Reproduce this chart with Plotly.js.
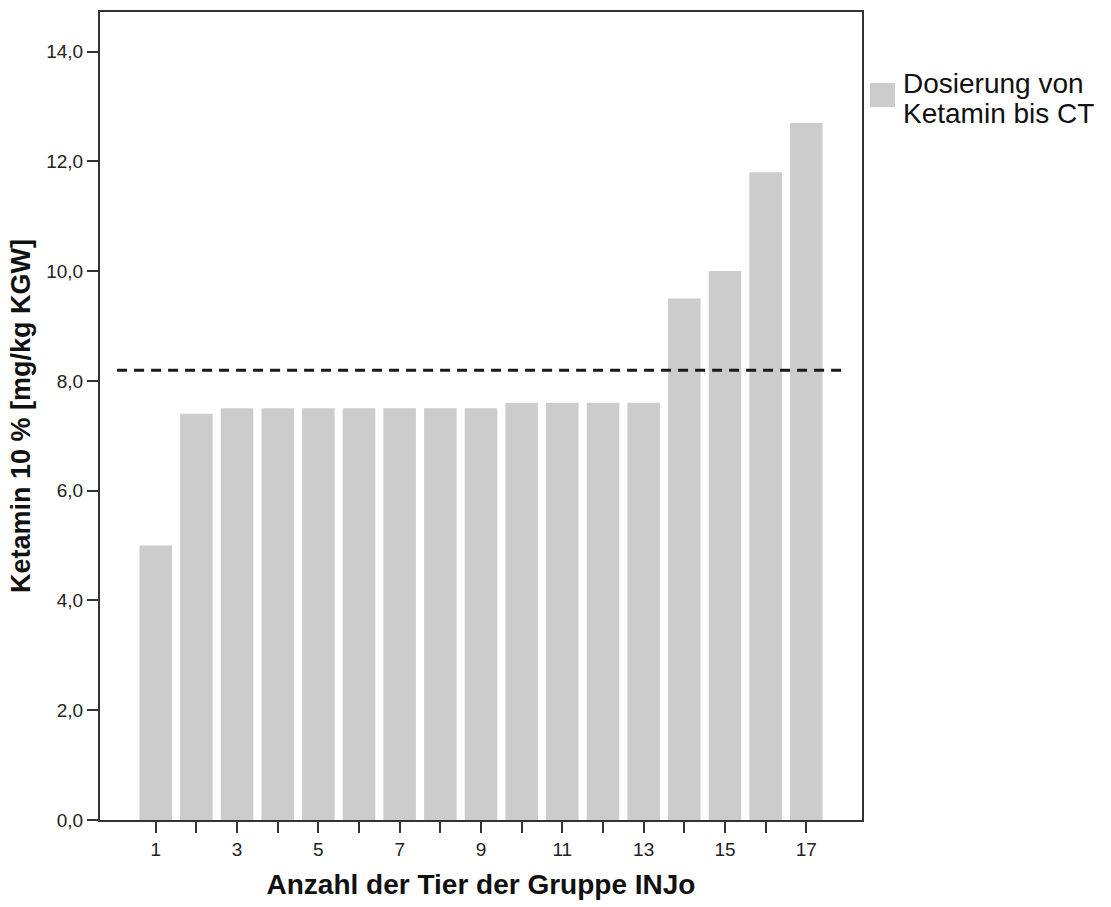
<!DOCTYPE html>
<html>
<head>
<meta charset="utf-8">
<script src="https://cdn.plot.ly/plotly-3.0.1.min.js"></script>
<style>
  html, body { margin: 0; padding: 0; background: #fff; }
  #chart { width: 1111px; height: 907px; }
</style>
</head>
<body>
<div id="chart"></div>
<script>
// Ketamine dose per animal (group INJo), sorted ascending
const animals = [1, 2, 3, 4, 5, 6, 7, 8, 9, 10, 11, 12, 13, 14, 15, 16, 17];
const ketamineDose = [5.0, 7.4, 7.5, 7.5, 7.5, 7.5, 7.5, 7.5, 7.5, 7.6, 7.6, 7.6, 7.6, 9.5, 10.0, 11.8, 12.7];
const xTickLabels = ['1', '', '3', '', '5', '', '7', '', '9', '', '11', '', '13', '', '15', '', '17'];
const yTickValues = [0, 2, 4, 6, 8, 10, 12, 14];
const seriesName = ['Dosierung von', 'Ketamin bis CT'];

// mean dose, drawn as the dashed reference line
const meanDose = ketamineDose.reduce((a, b) => a + b, 0) / ketamineDose.length;

const barColor = '#cccccc';
const frameColor = '#333333';
const fontFamily = '"Liberation Sans", Arial, sans-serif';

const traces = [{
  type: 'bar',
  x: animals,
  y: ketamineDose,
  width: 0.8,
  marker: { color: barColor, line: { width: 0 } },
  showlegend: false,
  hoverinfo: 'x+y'
}];

const layout = {
  width: 1111,
  height: 907,
  margin: { l: 100, r: 249, t: 12, b: 87 },
  paper_bgcolor: '#ffffff',
  plot_bgcolor: '#ffffff',
  separators: ',.',
  font: { family: fontFamily, color: '#111111' },
  showlegend: false,
  xaxis: {
    range: [-0.37, 18.37],
    tickmode: 'array',
    tickvals: animals,
    ticktext: xTickLabels,
    ticks: 'outside',
    ticklen: 11,
    tickwidth: 2,
    tickcolor: frameColor,
    tickfont: { size: 19, color: '#222222' },
    showline: true,
    linecolor: frameColor,
    linewidth: 2,
    mirror: true,
    showgrid: false,
    zeroline: false,
    title: {
      text: 'Anzahl der Tier der Gruppe INJo',
      font: { size: 28, color: '#111111', family: fontFamily, weight: 'bold' },
      standoff: 16
    }
  },
  yaxis: {
    range: [0, 14.72],
    tickmode: 'array',
    tickvals: yTickValues,
    tickformat: '.1f',
    ticks: 'outside',
    ticklen: 11,
    tickwidth: 2,
    tickcolor: frameColor,
    tickfont: { size: 19, color: '#222222' },
    showline: true,
    linecolor: frameColor,
    linewidth: 2,
    mirror: true,
    showgrid: false,
    zeroline: false,
    title: {
      text: 'Ketamin 10 % [mg/kg KGW]',
      font: { size: 27, color: '#111111', family: fontFamily, weight: 'bold' },
      standoff: 8
    }
  },
  shapes: [
    {
      type: 'line',
      xref: 'x', yref: 'y',
      x0: 0.05, x1: 17.95,
      y0: meanDose, y1: meanDose,
      line: { color: '#1a1a1a', width: 3, dash: '10px,7px' }
    },
    // legend swatch
    {
      type: 'rect',
      xref: 'paper', yref: 'paper',
      x0: (870 - 100) / 762, x1: (895 - 100) / 762,
      y0: (820 - 107) / 808, y1: (820 - 83) / 808,
      fillcolor: barColor,
      line: { width: 0 }
    }
  ],
  annotations: [
    {
      xref: 'paper', yref: 'paper',
      x: (901 - 100) / 762, y: (820 - 84) / 808,
      xanchor: 'left', yanchor: 'middle',
      text: seriesName[0],
      showarrow: false,
      font: { size: 28, color: '#111111', family: fontFamily }
    },
    {
      xref: 'paper', yref: 'paper',
      x: (901 - 100) / 762, y: (820 - 113) / 808,
      xanchor: 'left', yanchor: 'middle',
      text: seriesName[1],
      showarrow: false,
      font: { size: 28, color: '#111111', family: fontFamily }
    }
  ]
};

Plotly.newPlot('chart', traces, layout, { displayModeBar: false, staticPlot: true });
</script>
</body>
</html>
